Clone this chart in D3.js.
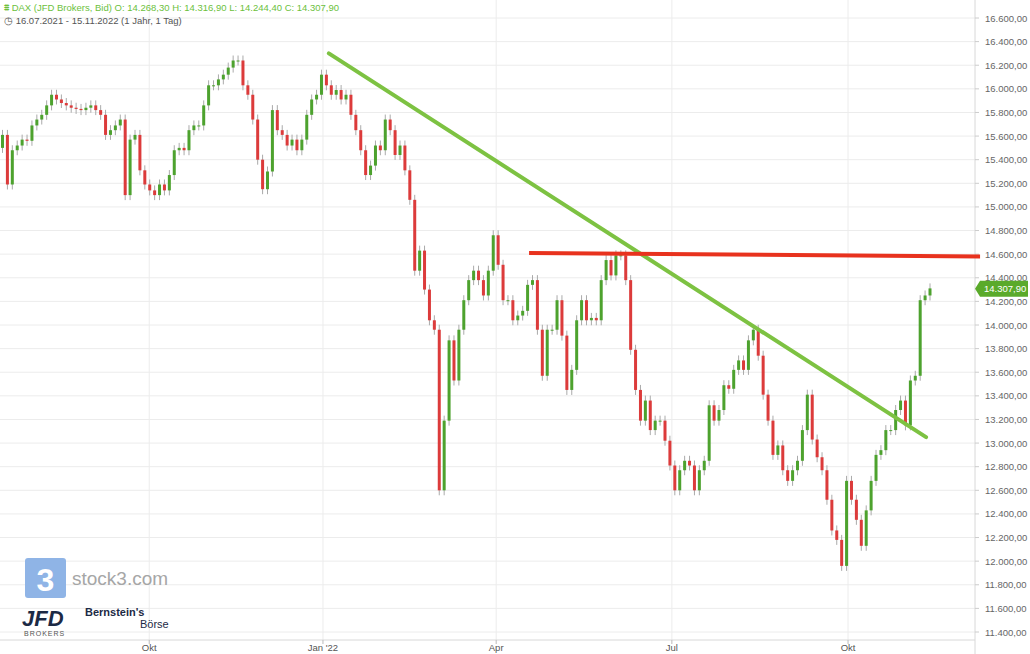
<!DOCTYPE html>
<html><head><meta charset="utf-8">
<script src="https://cdn.jsdelivr.net/npm/d3@7"></script>
<style>body{margin:0;background:#fff;font-family:"Liberation Sans",Arial,sans-serif}</style>
</head><body><svg id="c" width="1030" height="654"></svg>
<script>
// Daily-ish closes (DAX)
const closes = [
15610,15190,15480,15520,15570,15560,15690,15740,15780,15860,
15950,15910,15880,15860,15840,15830,15820,15840,15860,15820,
15780,15610,15650,15690,15740,15100,15570,15610,15310,15190,
15140,15100,15190,15140,15270,15480,15500,15480,15650,15690,
15690,15860,16030,16030,16080,16120,16180,16240,16240,16030,
15950,15740,15400,15150,15300,15820,15650,15610,15520,15570,
15480,15570,15780,15910,15950,16120,16030,15950,15990,15910,
15950,15780,15650,15480,15270,15350,15520,15480,15740,15650,
15440,15520,15310,15060,14460,14630,14300,14040,13960,12600,
13190,13870,13530,13960,14210,14380,14460,14380,14250,14460,
14760,14510,14210,14210,14040,14080,14120,14340,14380,13960,
13570,13960,13960,14210,13910,13450,13620,14040,14210,14040,
14060,14040,14380,14550,14420,14590,14590,14380,13790,13450,
13190,13360,13110,13190,13190,13020,12810,12600,12770,12850,
12810,12600,12770,12850,13320,13190,13280,13490,13460,13620,
13700,13620,13870,13960,13740,13410,13190,12900,12980,12770,
12680,12770,12850,13110,13410,13030,12880,12770,12520,12260,
12180,11960,12680,12520,12350,12130,12430,12680,12900,12940,
13110,13110,13280,13360,13150,13530,13570,14210,14250,14310];
const firstOpen = 15500;
const yTicks = d3.range(11400, 16601, 200);
const monthLabels = ["Okt","Jan '22","Apr","Jul","Okt"];
const monthIdx = [29.9, 65.3, 100.6, 136.4, 172.3];
const greenTrend = [[66.5,16300],[188.2,13050]];
const redTrend = [[107.3,14610],[199.2,14580]];
const lastPrice = 14307.9;

const svg = d3.select("#c");
const W=975, pTop=18, pBot=632;
const x = d3.scaleLinear().domain([0,closes.length-1]).range([2.5,930]);
const y = d3.scaleLinear().domain([11400,16600]).range([pBot,pTop]);
const loc = d3.formatLocale({decimal:",",thousands:".",grouping:[3],currency:["",""]});
const f2 = loc.format(",.2f");

svg.append("g").selectAll("line").data(yTicks).join("line")
 .attr("x1",0).attr("x2",W).attr("y1",d=>y(d)).attr("y2",d=>y(d)).attr("stroke","#ececec");
svg.append("g").selectAll("line").data(monthIdx).join("line")
 .attr("x1",d=>x(d)).attr("x2",d=>x(d)).attr("y1",0).attr("y2",640).attr("stroke","#ececec");
svg.append("line").attr("x1",W).attr("x2",W).attr("y1",0).attr("y2",654).attr("stroke","#d8d8d8");
svg.append("line").attr("x1",0).attr("x2",W).attr("y1",640).attr("y2",640).attr("stroke","#d8d8d8");
svg.append("g").selectAll("text").data(yTicks).join("text")
 .attr("x",985).attr("y",d=>y(d)+3.5).attr("font-size",9.5).attr("fill","#666").text(d=>f2(d));
svg.append("g").selectAll("line").data(yTicks).join("line")
 .attr("x1",W).attr("x2",W+4).attr("y1",d=>y(d)).attr("y2",d=>y(d)).attr("stroke","#ccc");
svg.append("g").selectAll("text").data(monthIdx).join("text")
 .attr("x",d=>x(d)).attr("y",651).attr("text-anchor","middle").attr("font-size",9.5).attr("fill","#555")
 .text((d,i)=>monthLabels[i]);
svg.append("g").selectAll("line").data(monthIdx).join("line")
 .attr("x1",d=>x(d)).attr("x2",d=>x(d)).attr("y1",640).attr("y2",644).attr("stroke","#bbb");

const candles = closes.map((c,i)=>({i,o:i?closes[i-1]:firstOpen,c}));
const g = svg.append("g");
g.selectAll("line").data(candles).join("line")
 .attr("x1",d=>x(d.i)).attr("x2",d=>x(d.i))
 .attr("y1",d=>y(Math.max(d.o,d.c))-5).attr("y2",d=>y(Math.min(d.o,d.c))+5)
 .attr("stroke","#aaa").attr("stroke-width",1);
g.selectAll("rect").data(candles).join("rect")
 .attr("x",d=>x(d.i)-1.5).attr("width",3)
 .attr("y",d=>y(Math.max(d.o,d.c))).attr("height",d=>Math.max(1,Math.abs(y(d.o)-y(d.c))))
 .attr("fill",d=>d.c>=d.o?"#4da22e":"#dc3b3b");

const ln = d3.line().x(d=>x(d[0])).y(d=>y(d[1]));
svg.append("path").attr("d",ln(greenTrend)).attr("stroke","#7dc242").attr("stroke-width",4).attr("fill","none").attr("stroke-linecap","round");
svg.append("path").attr("d",ln(redTrend)).attr("stroke","#e8321e").attr("stroke-width",4).attr("fill","none");

const ly=y(lastPrice);
svg.append("path").attr("d",`M${W} ${ly} L${W+5} ${ly-8} L1028 ${ly-8} L1028 ${ly+8} L${W+5} ${ly+8}Z`).attr("fill","#5aaa2a");
svg.append("text").attr("x",984).attr("y",ly+3.5).attr("font-size",9.5).attr("fill","#fff").text(f2(lastPrice));

svg.append("text").attr("x",4).attr("y",11).attr("font-size",9.5).attr("fill","#6cbf3c")
 .text("⩩ DAX (JFD Brokers, Bid)  O: 14.268,30  H: 14.316,90  L: 14.244,40  C: 14.307,90");
svg.append("text").attr("x",4).attr("y",24).attr("font-size",9.5).attr("fill","#555")
 .text("◷ 16.07.2021 - 15.11.2022   (1 Jahr, 1 Tag)");

svg.append("rect").attr("x",25).attr("y",558).attr("width",41).attr("height",40).attr("rx",3).attr("fill","#8fb4e6");
svg.append("text").attr("x",45.5).attr("y",591).attr("text-anchor","middle").attr("font-size",32).attr("font-weight","bold").attr("fill","#fff").text("3");
svg.append("text").attr("x",72).attr("y",585).attr("font-size",19).attr("fill","#a6a6a6").text("stock3.com");
svg.append("text").attr("x",22).attr("y",626).attr("font-size",22).attr("font-weight","bold").attr("fill","#1c2a45").attr("font-style","italic").text("JFD");
svg.append("text").attr("x",24).attr("y",636).attr("font-size",7).attr("fill","#555").attr("letter-spacing",1).text("BROKERS");
svg.append("text").attr("x",85).attr("y",616).attr("font-size",11).attr("font-weight","bold").attr("fill","#1c2a45").text("Bernstein's");
svg.append("text").attr("x",140).attr("y",628).attr("font-size",11).attr("fill","#1c2a45").text("Börse");
</script></body></html>
